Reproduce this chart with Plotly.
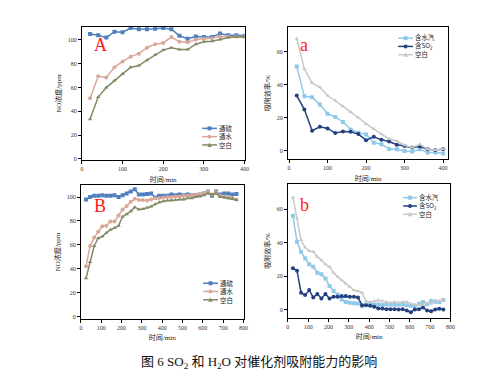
import plotly.graph_objects as go

W, H = 477, 376

# ---------------- data ----------------
x_A = [20, 40, 60, 80, 100, 120, 140, 160, 180, 200, 220, 240, 260, 280, 300, 320, 340, 360, 380, 400]
A_blue = [105, 104, 102, 107, 106.5, 110, 109, 109, 109.5, 110, 109, 103.5, 101, 103, 102.5, 102.5, 105.5, 104, 104, 103.5]
A_pink = [51, 69.5, 68.5, 77, 82, 86, 88.5, 93.5, 96.5, 97.5, 102.5, 98.5, 98, 100.5, 101, 101.5, 103, 103, 103, 102.5]
A_olive = [33.5, 52, 60, 66, 71.5, 77, 78.5, 83, 87.5, 91.5, 93.5, 92, 92, 96.5, 98.5, 99, 100.5, 102, 102.5, 102.5]

x_a = x_A
a_light = [51, 33, 32.5, 28, 22.5, 20.5, 17.5, 13, 11, 10, 5, 4, 1.2, 1, 0, -0.4, 1, -1, -1, -1.6]
a_dark = [33.5, 25, 12.2, 14.6, 13.6, 10.8, 11.8, 11.6, 10.2, 6.5, 8.5, 6.7, 5.7, 3.7, 3, 2, 2.6, 1, 0.6, 1]
a_grey = [68, 49.5, 41, 38.5, 33.5, 30.5, 27, 23.5, 20, 16.2, 13.2, 10.2, 7.2, 6, 3.5, 2, 4, 1, 0.6, 1]

x_B = [25, 45, 65, 85, 105, 125, 145, 165, 185, 205, 225, 245, 265, 285, 305, 325, 345, 365, 385,
       405, 425, 445, 465, 485, 505, 525, 545, 565, 585, 605, 625, 645, 665, 685, 705, 725, 745, 765]
B_blue = [98, 100, 101, 101, 101.5, 101, 101, 101.5, 100, 101.5, 103, 104.5, 106.5, 102, 102, 102.5, 103, 99.5, 101,
          101, 101, 102, 101.5, 102, 101.5, 102, 101.5, 101.5, 102, 103, 104.5, 101, 104.5, 102, 103, 103, 102, 102.5]
B_pink = [42, 59, 66, 71, 75.5, 76, 79.5, 79.5, 84.5, 89.5, 92.5, 96, 98.5, 97.5, 97.5, 97, 98, 99, 99,
          99.5, 100, 100, 100.5, 100.5, 101, 101, 101.5, 102, 102, 103, 104.5, 102, 104, 101, 100.5, 99.5, 99, 98]
B_olive = [32, 45.5, 59, 65.5, 67, 70, 72.5, 74, 76, 83.5, 85.5, 88, 91.5, 89.5, 90, 91, 92, 94, 95.5,
           96.5, 97, 97, 97.5, 98, 98, 99, 99, 100, 100.5, 101.5, 103, 102, 103, 100, 99.5, 99, 98.5, 97.5]

x_b = x_B
b_light = [56, 40.5, 34.5, 30.5, 27, 25.5, 22, 21, 18.5, 14, 11, 9, 6, 4.5, 4, 3.8, 3.6, 2, 3,
           3, 3, 3, 2.8, 3, 3, 2.8, 3, 3, 2.6, 2.2, 2, 3.4, 4.5, 3.2, 5, 4.6, 4.5, 5.6]
b_dark = [24.6, 23.2, 10, 8.6, 11.6, 7.2, 9.2, 6.6, 9.2, 6.6, 7.6, 7.6, 8, 8, 7.6, 7.6, 7.2, 2.6, 2.6,
          2.2, 1.6, 0.6, 0.6, 0.2, 0.2, 0.2, 0, 0.2, -0.6, -1.6, 0, 0.2, 1.2, -0.6, -1, 0, 0.4, 0]
b_grey = [67, 54.5, 41.5, 37, 35, 34.5, 31.5, 29.5, 27, 25.5, 22, 19.5, 17.5, 15.5, 13.5, 11.5, 11, 10, 5,
          4.5, 5, 5.5, 5, 4.5, 4, 4.5, 4, 4.5, 4.5, 3.5, 3, 2.5, 3, 4, 3.5, 5.5, 5, 5.5]

names_A = ["通硫", "通水", "空白"]
names_a = ["含水汽", "含SO<sub>2</sub>", "空白"]

C_BLUE, C_PINK, C_OLIVE = "#4f7fc0", "#d8a898", "#838a66"
C_LIGHT, C_DARK, C_GREY = "#8fc8e8", "#22407e", "#c9c9c9"

FONT = "Liberation Serif, Noto Sans CJK SC"

fig = go.Figure()

def add(x, y, color, symbol, name, xa, ya):
    fig.add_trace(go.Scatter(x=x, y=y, mode="lines+markers", name=name,
                             line=dict(color=color, width=1.5),
                             marker=dict(color=color, symbol=symbol, size=4),
                             xaxis=xa, yaxis=ya, showlegend=False))

add(x_A, A_blue, C_BLUE, "square", names_A[0], "x", "y")
add(x_A, A_pink, C_PINK, "circle", names_A[1], "x", "y")
add(x_A, A_olive, C_OLIVE, "triangle-up", names_A[2], "x", "y")

add(x_a, a_light, C_LIGHT, "square", names_a[0], "x2", "y2")
add(x_a, a_dark, C_DARK, "circle", names_a[1], "x2", "y2")
add(x_a, a_grey, C_GREY, "triangle-up", names_a[2], "x2", "y2")

add(x_B, B_blue, C_BLUE, "square", names_A[0], "x3", "y3")
add(x_B, B_pink, C_PINK, "circle", names_A[1], "x3", "y3")
add(x_B, B_olive, C_OLIVE, "triangle-up", names_A[2], "x3", "y3")

add(x_b, b_light, C_LIGHT, "square", names_a[0], "x4", "y4")
add(x_b, b_dark, C_DARK, "circle", names_a[1], "x4", "y4")
add(x_b, b_grey, C_GREY, "triangle-up", names_a[2], "x4", "y4")

def px(x):
    return x / W

def py(y):
    return 1 - y / H

def xax(dom, rng, dtick, anchor):
    return dict(domain=[px(dom[0]), px(dom[1])], range=rng, dtick=dtick, tick0=0, anchor=anchor,
                showline=True, linecolor="black", linewidth=1, mirror=True,
                ticks="outside", ticklen=3, tickwidth=1, tickcolor="black",
                tickfont=dict(size=6, color="#333", family=FONT),
                showgrid=False, zeroline=False,
                title=dict(text="时间/min", font=dict(size=7, color="#222", family=FONT), standoff=5))

def yax(dom, rng, dtick, anchor, title):
    return dict(domain=[py(dom[1]), py(dom[0])], range=rng, dtick=dtick, tick0=0, anchor=anchor,
                showline=True, linecolor="black", linewidth=1, mirror=True,
                ticks="outside", ticklen=3, tickwidth=1, tickcolor="black",
                tickfont=dict(size=6, color="#333", family=FONT),
                showgrid=False, zeroline=False,
                title=dict(text=title, font=dict(size=7, color="#222", family=FONT), standoff=5))

fig.update_layout(
    xaxis=xax((73, 238), [0, 400], 100, "y"),
    yaxis=yax((19, 153), [-1, 111], 20, "x", "NO浓度/ppm"),
    xaxis2=xax((282, 445), [-3, 414], 100, "y2"),
    yaxis2=yax((19, 152), [-5, 75], 20, "x2", "吸附效率/%"),
    xaxis3=xax((72, 237), [0, 800], 100, "y3"),
    yaxis3=yax((178, 312.5), [-2, 110], 20, "x3", "NO浓度/ppm"),
    xaxis4=xax((282, 447), [0, 800], 100, "y4"),
    yaxis4=yax((177, 311.5), [-5, 75], 20, "x4", "吸附效率/%"),
)

shapes = []
annots = []
LEG_FS = 6.4
ROW = LEG_FS * 1.3

def legend(x0, x1, ytop, colors, symbols, names):
    rows = [ytop + i * ROW for i in range(len(names))]
    for yy, c, s in zip(rows, colors, symbols):
        shapes.append(dict(type="line", xref="paper", yref="paper", x0=px(x0), x1=px(x1),
                           y0=py(yy), y1=py(yy), line=dict(color=c, width=1.5)))
        xm = (x0 + x1) / 2
        r = 2
        if s == "square":
            shapes.append(dict(type="rect", xref="paper", yref="paper", x0=px(xm - r), x1=px(xm + r),
                               y0=py(yy + r), y1=py(yy - r), fillcolor=c, line=dict(width=0)))
        elif s == "circle":
            shapes.append(dict(type="circle", xref="paper", yref="paper", x0=px(xm - r), x1=px(xm + r),
                               y0=py(yy + r), y1=py(yy - r), fillcolor=c, line=dict(width=0)))
        else:
            path = "M %f %f L %f %f L %f %f Z" % (px(xm - r - 0.3), py(yy + r), px(xm + r + 0.3), py(yy + r),
                                                 px(xm), py(yy - r - 0.5))
            shapes.append(dict(type="path", xref="paper", yref="paper", path=path, fillcolor=c, line=dict(width=0)))
    ymid = (rows[0] + rows[-1]) / 2
    annots.append(dict(text="<br>".join(names), xref="paper", yref="paper", x=px(x1 + 1.5), y=py(ymid),
                       xanchor="left", yanchor="middle", align="left", showarrow=False, borderpad=0,
                       font=dict(size=LEG_FS, color="#222", family="Noto Sans CJK SC")))

legend(195, 210, 121, [C_BLUE, C_PINK, C_OLIVE], ["square", "circle", "tri"], names_A)
legend(394, 409, 30.3, [C_LIGHT, C_DARK, C_GREY], ["square", "circle", "tri"], names_a)
legend(196, 211, 276.7, [C_BLUE, C_PINK, C_OLIVE], ["square", "circle", "tri"], names_A)
legend(399, 413, 190.7, [C_LIGHT, C_DARK, C_GREY], ["square", "circle", "tri"], names_a)

for t, x, y in [("A", 91.5, 37.5), ("a", 298, 37.5), ("B", 91, 199), ("b", 299, 198)]:
    annots.append(dict(text=t, xref="paper", yref="paper", x=px(x), y=py(y), xanchor="center",
                       yanchor="middle", showarrow=False,
                       font=dict(size=18, color="#ff1a1a", family="Liberation Serif")))

annots.append(dict(text="图 6 SO<sub>2</sub> 和 H<sub>2</sub>O 对催化剂吸附能力的影响", xref="paper", yref="paper",
                   x=px(253), y=py(356), xanchor="center", yanchor="middle", showarrow=False,
                   font=dict(size=13, color="#111", family=FONT)))

fig.update_layout(shapes=shapes, annotations=annots,
                  width=W, height=H, margin=dict(l=0, r=0, t=0, b=0),
                  paper_bgcolor="white", plot_bgcolor="white", showlegend=False)

fig.write_html("out.html")
